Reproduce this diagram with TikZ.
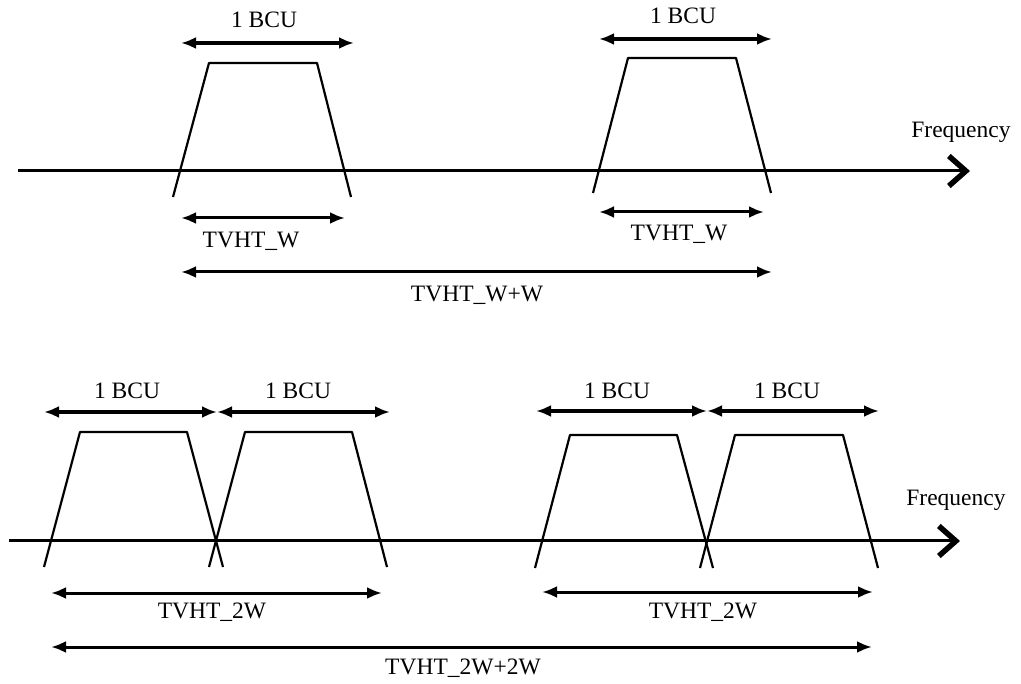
\documentclass[tikz,border=0pt]{standalone}
\usepackage{fontspec}
\setmainfont{Liberation Serif}
\usetikzlibrary{arrows.meta}
\begin{document}
\begin{tikzpicture}[x=1pt,y=-1pt,
  axis/.style={line width=3pt,-{Straight Barb[length=17pt,width=30pt,line width=5.5pt]}},
  band/.style={line width=2.2pt,line join=round},
  bcu/.style={line width=3.8pt,{Latex[length=15pt,width=12pt]}-{Latex[length=15pt,width=12pt]}},
  dim/.style={line width=3pt,{Latex[length=15pt,width=12pt]}-{Latex[length=15pt,width=12pt]}},
  lbl/.style={font=\fontsize{23.5}{28}\selectfont,inner sep=0pt}]
\useasboundingbox (0,0) rectangle (1021,684);

% ---------- upper spectrum: two separate channels ----------
\coordinate (ax1s) at (18,171);
\coordinate (ax1e) at (970,171);
\draw[axis] (ax1s) -- (ax1e);
\node[lbl] (freq1) at (961,132) {Frequency};

\draw[band] (173,197) -- (209,63) -- (317,63) -- (351,197);
\draw[band] (593,193) -- (628,58) -- (736,58) -- (771,193);

\coordinate (b1l) at (181,43);  \coordinate (b1r) at (354,43);
\draw[bcu] (b1l) -- (b1r);
\node[lbl] (bcu1) at (264,20) {1 BCU};
\coordinate (b2l) at (599,39);  \coordinate (b2r) at (772,39);
\draw[bcu] (b2l) -- (b2r);
\node[lbl] (bcu2) at (683,16) {1 BCU};

\coordinate (w1l) at (181,218); \coordinate (w1r) at (345,218);
\draw[dim] (w1l) -- (w1r);
\node[lbl] (tw1) at (251,241) {TVHT\_W};
\coordinate (w2l) at (599,212); \coordinate (w2r) at (764,212);
\draw[dim] (w2l) -- (w2r);
\node[lbl] (tw2) at (679,234) {TVHT\_W};

\coordinate (wwl) at (181,272); \coordinate (wwr) at (772,272);
\draw[dim] (wwl) -- (wwr);
\node[lbl] (tww) at (477,295) {TVHT\_W+W};

% ---------- lower spectrum: two pairs of adjacent channels ----------
\coordinate (ax2s) at (9,541);
\coordinate (ax2e) at (960,541);
\draw[axis] (ax2s) -- (ax2e);
\node[lbl] (freq2) at (956,500) {Frequency};

\draw[band] (44,567) -- (80,432) -- (187,432) -- (223,567);
\draw[band] (209,567) -- (245,432) -- (352,432) -- (387,567);
\draw[band] (535,568) -- (570,435) -- (677,435) -- (713,568);
\draw[band] (700,568) -- (735,435) -- (843,435) -- (878,568);

\coordinate (c1l) at (44,412);  \coordinate (c1m) at (217,412); \coordinate (c1r) at (390,412);
\draw[bcu] (c1l) -- (c1m);
\draw[bcu] (c1m) -- (c1r);
\node[lbl] (bcu3) at (127,391) {1 BCU};
\node[lbl] (bcu4) at (298,391) {1 BCU};
\coordinate (c2l) at (536,411); \coordinate (c2m) at (707,411); \coordinate (c2r) at (879,411);
\draw[bcu] (c2l) -- (c2m);
\draw[bcu] (c2m) -- (c2r);
\node[lbl] (bcu5) at (617,391) {1 BCU};
\node[lbl] (bcu6) at (787,391) {1 BCU};

\coordinate (d1l) at (51,593);  \coordinate (d1r) at (382,593);
\draw[dim] (d1l) -- (d1r);
\node[lbl] (t2w1) at (212,612) {TVHT\_2W};
\coordinate (d2l) at (542,592); \coordinate (d2r) at (873,592);
\draw[dim] (d2l) -- (d2r);
\node[lbl] (t2w2) at (703,612) {TVHT\_2W};

\coordinate (eel) at (51,647);  \coordinate (eer) at (872,647);
\draw[dim] (eel) -- (eer);
\node[lbl] (t2w2w) at (463,668) {TVHT\_2W+2W};
\end{tikzpicture}
\end{document}
